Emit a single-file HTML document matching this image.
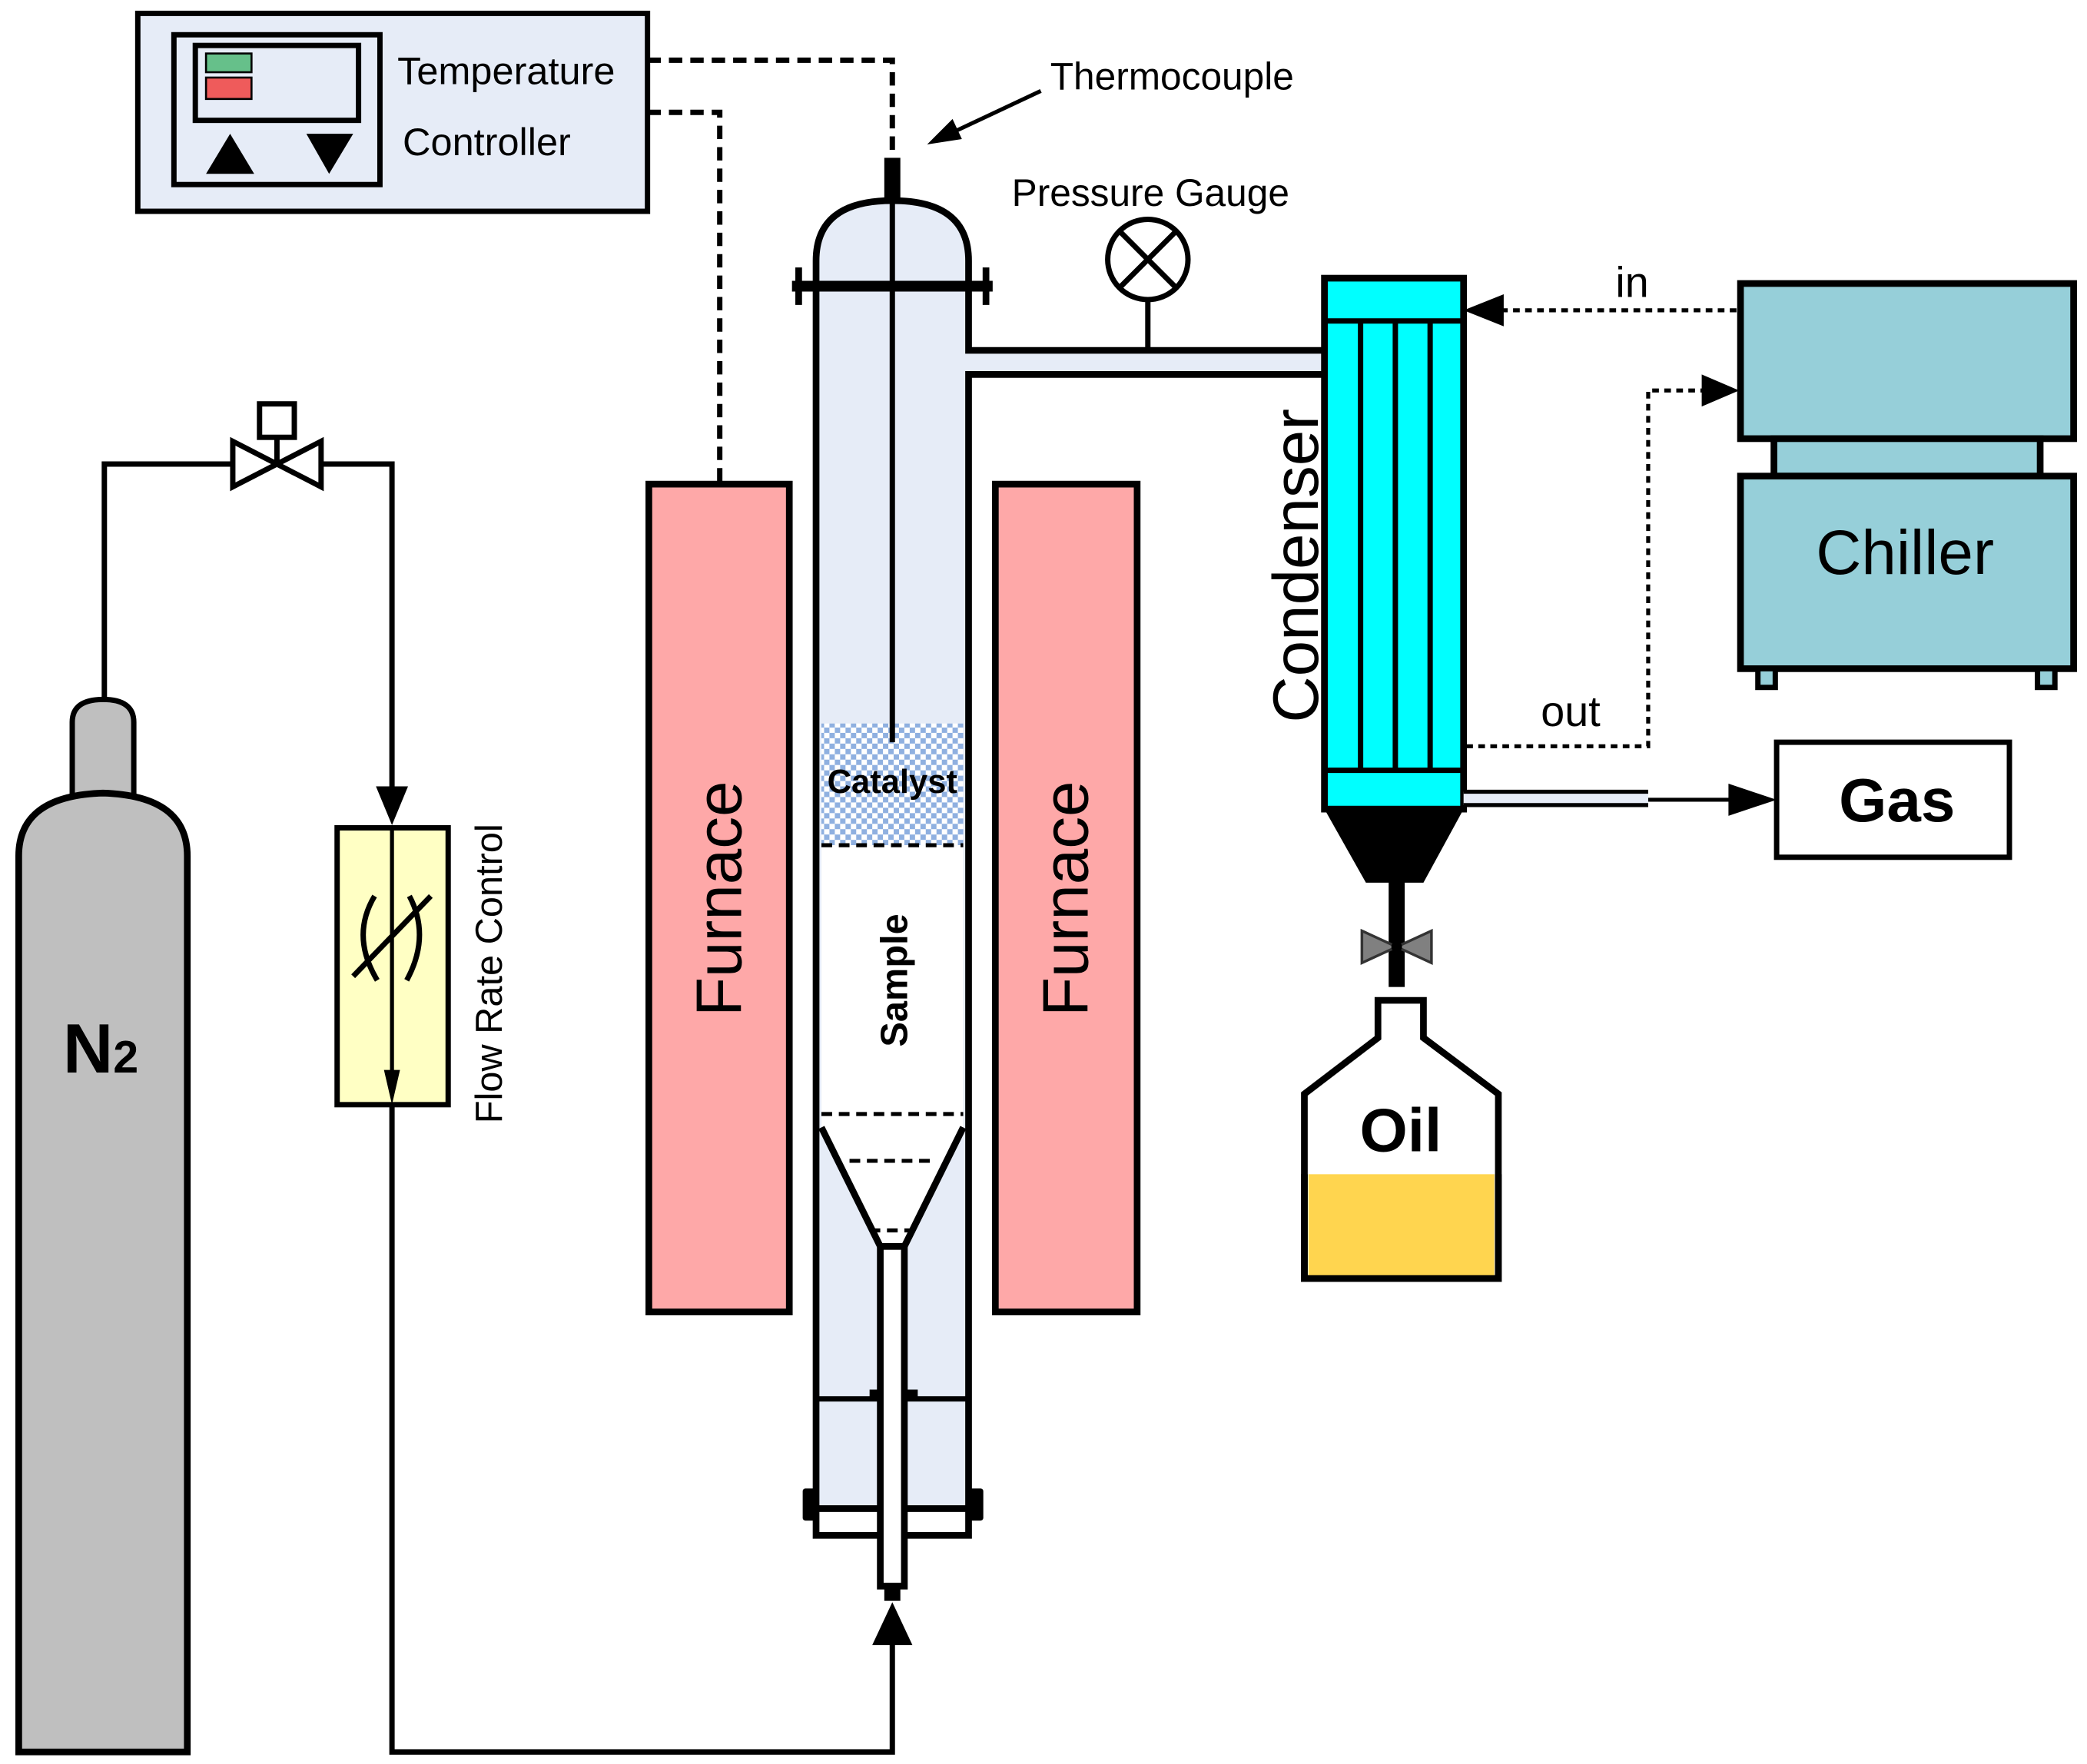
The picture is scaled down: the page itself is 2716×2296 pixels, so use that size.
<!DOCTYPE html>
<html><head><meta charset="utf-8"><style>html,body{margin:0;padding:0;background:#fff}svg{display:block}</style></head>
<body>
<svg width="2716" height="2296" viewBox="0 0 1560 1319" preserveAspectRatio="none" xmlns="http://www.w3.org/2000/svg" font-family="Liberation Sans, Arial, sans-serif">
<defs>
<pattern id="chk" width="8" height="8" patternUnits="userSpaceOnUse">
<rect width="8" height="8" fill="#ffffff"/><rect width="4" height="4" fill="#8fb0e0"/><rect x="4" y="4" width="4" height="4" fill="#8fb0e0"/>
</pattern>
</defs>
<!-- Controller -->
<rect x="103" y="10" width="381" height="148" fill="#e6ecf7" stroke="#000" stroke-width="4"/>
<rect x="130" y="26" width="154" height="112" fill="#e6ecf7" stroke="#000" stroke-width="4"/>
<rect x="146" y="34" width="122" height="56" fill="#e6ecf7" stroke="#000" stroke-width="4"/>
<rect x="154" y="40" width="34" height="14" fill="#66c08a" stroke="#000" stroke-width="1.5"/>
<rect x="154" y="58" width="34" height="16" fill="#ef5b5b" stroke="#000" stroke-width="1.5"/>
<polygon points="154,130 190,130 172,100" fill="#000"/>
<polygon points="229,100 264,100 246,130" fill="#000"/>
<text x="297" y="63" font-size="29">Temperature</text>
<text x="301" y="116" font-size="29">Controller</text>
<g fill="none" stroke="#000" stroke-width="4" stroke-dasharray="10,6">
<polyline points="484,45 667,45 667,118"/>
<polyline points="484,84 538,84 538,362"/>
</g>
<text x="785" y="67" font-size="28.5">Thermocouple</text>
<line x1="778" y1="68" x2="710" y2="100" stroke="#000" stroke-width="3"/>
<polygon points="693,108 712,89 719,104" fill="#000"/>
<!-- reactor -->
<path d="M610,1128 V195 Q610,150 667,150 Q724,150 724,195 V1128 Z" fill="#e6ecf7"/>
<rect x="724" y="262" width="266" height="18" fill="#e6ecf7"/>
<rect x="614" y="541" width="106" height="91" fill="url(#chk)"/>
<path d="M614,632 H720 V843 L676,932 H658 L614,843 Z" fill="#fff"/>
<g fill="none" stroke="#000" stroke-width="5">
<path d="M610,1128 V195 Q610,150 667,150 Q724,150 724,195 V262 H990"/>
<path d="M990,280 H724 V1128"/>
<path d="M614,843 L658,932 M720,843 L676,932"/>
</g>
<g stroke="#000" stroke-width="3" stroke-dasharray="8,5"><line x1="614" y1="833" x2="720" y2="833"/><line x1="635" y1="868" x2="700" y2="868"/><line x1="650" y1="920" x2="684" y2="920"/><line x1="614" y1="632" x2="720" y2="632"/></g>
<text x="667" y="593" font-size="25" font-weight="bold" text-anchor="middle">Catalyst</text>
<text transform="translate(678,733) rotate(-90)" font-size="28" font-weight="bold" text-anchor="middle">Sample</text>
<line x1="592" y1="214" x2="742" y2="214" stroke="#000" stroke-width="8"/>
<line x1="597" y1="200" x2="597" y2="228" stroke="#000" stroke-width="5"/>
<line x1="737" y1="200" x2="737" y2="228" stroke="#000" stroke-width="5"/>
<line x1="667" y1="140" x2="667" y2="555" stroke="#000" stroke-width="4"/>
<rect x="661" y="118" width="12" height="32" fill="#000"/>
<line x1="612" y1="1046" x2="722" y2="1046" stroke="#000" stroke-width="4"/>
<rect x="650" y="1039" width="10" height="8" fill="#000"/><rect x="674" y="1039" width="12" height="8" fill="#000"/>
<rect x="610" y="1128" width="114" height="20" fill="#fff" stroke="#000" stroke-width="5"/>
<rect x="600" y="1113" width="12" height="24" fill="#000" rx="2"/><rect x="723" y="1113" width="12" height="24" fill="#000" rx="2"/>
<rect x="658" y="932" width="18" height="254" fill="#fff" stroke="#000" stroke-width="5"/>
<rect x="661" y="1186" width="12" height="11" fill="#000"/>
<!-- pressure gauge -->
<text x="860" y="154" font-size="28.5" text-anchor="middle">Pressure Gauge</text>
<circle cx="858" cy="194" r="30" fill="#fff" stroke="#000" stroke-width="4"/>
<line x1="837" y1="173" x2="879" y2="215" stroke="#000" stroke-width="4"/><line x1="879" y1="173" x2="837" y2="215" stroke="#000" stroke-width="4"/>
<line x1="858" y1="224" x2="858" y2="262" stroke="#000" stroke-width="4"/>
<!-- furnaces -->
<rect x="485" y="362" width="105" height="619" fill="#fea8a8" stroke="#000" stroke-width="5"/>
<rect x="744" y="362" width="106" height="619" fill="#fea8a8" stroke="#000" stroke-width="5"/>
<text transform="translate(554,672) rotate(-90)" font-size="48" text-anchor="middle">Furnace</text>
<text transform="translate(813,672) rotate(-90)" font-size="48" text-anchor="middle">Furnace</text>
<!-- N2 cylinder -->
<path d="M54,595 V540 Q54,523 77,523 Q100,523 100,540 V595 Z" fill="#bfbfbf" stroke="#000" stroke-width="4"/>
<path d="M14,1310 V640 Q14,595 77,593 Q140,595 140,640 V1310 Z" fill="#bfbfbf" stroke="#000" stroke-width="5"/>
<text x="47" y="802" font-size="52" font-weight="bold">N<tspan font-size="34">2</tspan></text>
<!-- gas line -->
<g fill="none" stroke="#000" stroke-width="4">
<polyline points="78,523 78,347 174,347"/>
<polyline points="240,347 293,347 293,600"/>
<polyline points="293,826 293,1310 667,1310 667,1210"/>
</g>
<polygon points="174,330 174,364 207,347" fill="#fff" stroke="#000" stroke-width="4"/>
<polygon points="240,330 240,364 207,347" fill="#fff" stroke="#000" stroke-width="4"/>
<line x1="207" y1="347" x2="207" y2="326" stroke="#000" stroke-width="4"/>
<rect x="194" y="302" width="26" height="25" fill="#fff" stroke="#000" stroke-width="4"/>
<polygon points="281,588 305,588 293,617" fill="#000"/>
<polygon points="652,1230 682,1230 667,1198" fill="#000"/>
<rect x="252" y="619" width="83" height="207" fill="#ffffc4" stroke="#000" stroke-width="4"/>
<line x1="293" y1="619" x2="293" y2="810" stroke="#000" stroke-width="3"/>
<polygon points="287,800 299,800 293,826" fill="#000"/>
<path d="M280,670 Q262,700 282,733" fill="none" stroke="#000" stroke-width="4"/>
<path d="M306,670 Q322,700 304,733" fill="none" stroke="#000" stroke-width="4"/>
<line x1="264" y1="730" x2="322" y2="670" stroke="#000" stroke-width="4"/>
<text transform="translate(375,728) rotate(-90)" font-size="28" text-anchor="middle">Flow Rate Control</text>
<!-- condenser -->
<rect x="990" y="208" width="104" height="397" fill="#00ffff" stroke="#000" stroke-width="5"/>
<line x1="990" y1="240" x2="1094" y2="240" stroke="#000" stroke-width="4"/>
<line x1="990" y1="576" x2="1094" y2="576" stroke="#000" stroke-width="4"/>
<g stroke="#000" stroke-width="4"><line x1="1017" y1="240" x2="1017" y2="576"/><line x1="1043" y1="240" x2="1043" y2="576"/><line x1="1069" y1="240" x2="1069" y2="576"/></g>
<text transform="translate(985,423) rotate(-90)" font-size="48" text-anchor="middle">Condenser</text>
<polygon points="990,605 1094,605 1064,660 1021,660" fill="#000"/>
<rect x="1038" y="658" width="12" height="80" fill="#000"/>
<polygon points="1018,696 1018,720 1044,708" fill="#808080" stroke="#333" stroke-width="2"/>
<polygon points="1070,696 1070,720 1044,708" fill="#808080" stroke="#333" stroke-width="2"/>
<circle cx="1044" cy="708" r="4" fill="#000"/>
<!-- gas outlet -->
<rect x="1094" y="592" width="138" height="10" fill="#e6ecf7"/>
<line x1="1094" y1="592" x2="1232" y2="592" stroke="#000" stroke-width="3"/>
<line x1="1094" y1="602" x2="1232" y2="602" stroke="#000" stroke-width="3"/>
<line x1="1232" y1="598" x2="1300" y2="598" stroke="#000" stroke-width="3"/>
<polygon points="1292,586 1328,598 1292,610" fill="#000"/>
<rect x="1328" y="555" width="174" height="86" fill="#fff" stroke="#000" stroke-width="4"/>
<text x="1418" y="614" font-size="46" font-weight="bold" text-anchor="middle">Gas</text>
<!-- chiller -->
<rect x="1301" y="212" width="249" height="116" fill="#96cfd9" stroke="#000" stroke-width="5"/>
<rect x="1326" y="328" width="199" height="28" fill="#96cfd9" stroke="#000" stroke-width="5"/>
<rect x="1301" y="356" width="249" height="144" fill="#96cfd9" stroke="#000" stroke-width="5"/>
<rect x="1314" y="500" width="13" height="14" fill="#96cfd9" stroke="#000" stroke-width="4"/>
<rect x="1523" y="500" width="13" height="14" fill="#96cfd9" stroke="#000" stroke-width="4"/>
<text x="1424" y="429" font-size="47" text-anchor="middle">Chiller</text>
<g fill="none" stroke="#000" stroke-width="3" stroke-dasharray="5,4">
<line x1="1298" y1="232" x2="1120" y2="232"/>
<polyline points="1096,558 1232,558 1232,292 1276,292"/>
</g>
<polygon points="1094,232 1124,220 1124,244" fill="#000"/>
<polygon points="1300,292 1272,280 1272,304" fill="#000"/>
<text x="1220" y="222" font-size="32" text-anchor="middle">in</text>
<text x="1174" y="543" font-size="32" text-anchor="middle">out</text>
<!-- oil bottle -->
<path d="M1030,748 H1064 V776 L1120,818 V956 H975 V818 L1030,776 Z" fill="#fff" stroke="#000" stroke-width="5"/>
<rect x="978" y="878" width="139" height="76" fill="#ffd54f"/>
<path d="M975,878 V956 H1120 V878" fill="none" stroke="#000" stroke-width="5"/>
<text x="1047" y="861" font-size="46" font-weight="bold" text-anchor="middle">Oil</text>
</svg>
</body></html>
